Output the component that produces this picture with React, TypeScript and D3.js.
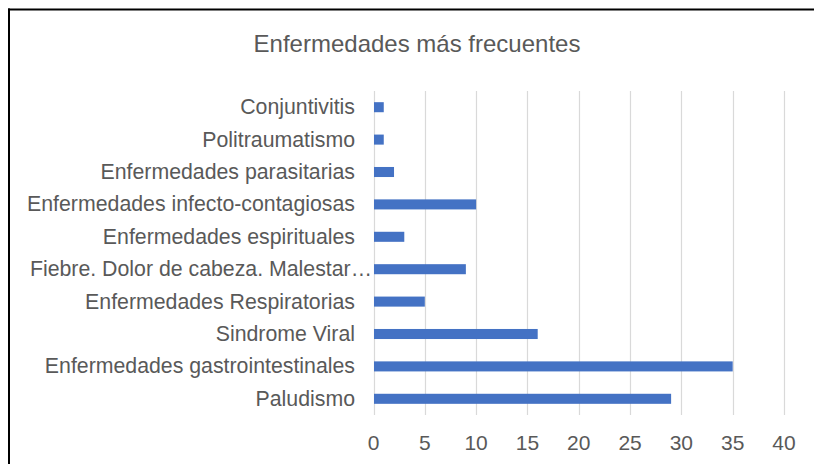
import React from "react";
import * as d3 from "d3";

const categories = [
  "Conjuntivitis",
  "Politraumatismo",
  "Enfermedades parasitarias",
  "Enfermedades infecto-contagiosas",
  "Enfermedades espirituales",
  "Fiebre. Dolor de cabeza. Malestar…",
  "Enfermedades Respiratorias",
  "Sindrome Viral",
  "Enfermedades gastrointestinales",
  "Paludismo",
];
const values = [1, 1, 2, 10, 3, 9, 5, 16, 35, 29];
const xTicks = [0, 5, 10, 15, 20, 25, 30, 35, 40];
const title = "Enfermedades más frecuentes";

const W = 814;
const H = 464;
const FONT = "'Liberation Sans', Arial, sans-serif";
const TEXT = "#595959";

export default function App() {
  const x = d3.scaleLinear().domain([0, 40]).range([373.5, 784]);
  const y = d3
    .scaleBand<string>()
    .domain(categories)
    .range([91, 415])
    .paddingInner(0.69)
    .paddingOuter(0.345);

  return (
    <svg
      width={W}
      height={H}
      style={{ position: "absolute", left: 0, top: 0, display: "block", background: "#fff" }}
      fontFamily={FONT}
    >
      <rect x={0} y={0} width={W} height={H} fill="#fff" />
      <line x1={8} x2={W} y1={9.5} y2={9.5} stroke="#000" strokeWidth={2} />
      <line x1={9} x2={9} y1={8.5} y2={H} stroke="#000" strokeWidth={2} />

      <text x={417} y={52} textAnchor="middle" fontSize={24} fill={TEXT}>
        {title}
      </text>

      {xTicks.map((t) => (
        <g key={t}>
          <line
            x1={Math.round(x(t)) + 0.5}
            x2={Math.round(x(t)) + 0.5}
            y1={91}
            y2={415}
            stroke="#d9d9d9"
            strokeWidth={1.2}
          />
          <text x={x(t)} y={450} textAnchor="middle" fontSize={21} fill={TEXT}>
            {t}
          </text>
        </g>
      ))}

      {categories.map((c, i) => {
        const cy = (y(c) as number) + y.bandwidth() / 2;
        const truncated = c.endsWith("…");
        return (
          <g key={c}>
            <rect
              x={x(0) + 0.5}
              y={y(c) as number}
              width={x(values[i]) - x(0) - 0.5}
              height={y.bandwidth()}
              fill="#4472c4"
            />
            <text
              x={truncated ? 372 : 355}
              y={cy + 7}
              textAnchor="end"
              fontSize={21.3}
              fill={TEXT}
            >
              {c}
            </text>
          </g>
        );
      })}
    </svg>
  );
}
